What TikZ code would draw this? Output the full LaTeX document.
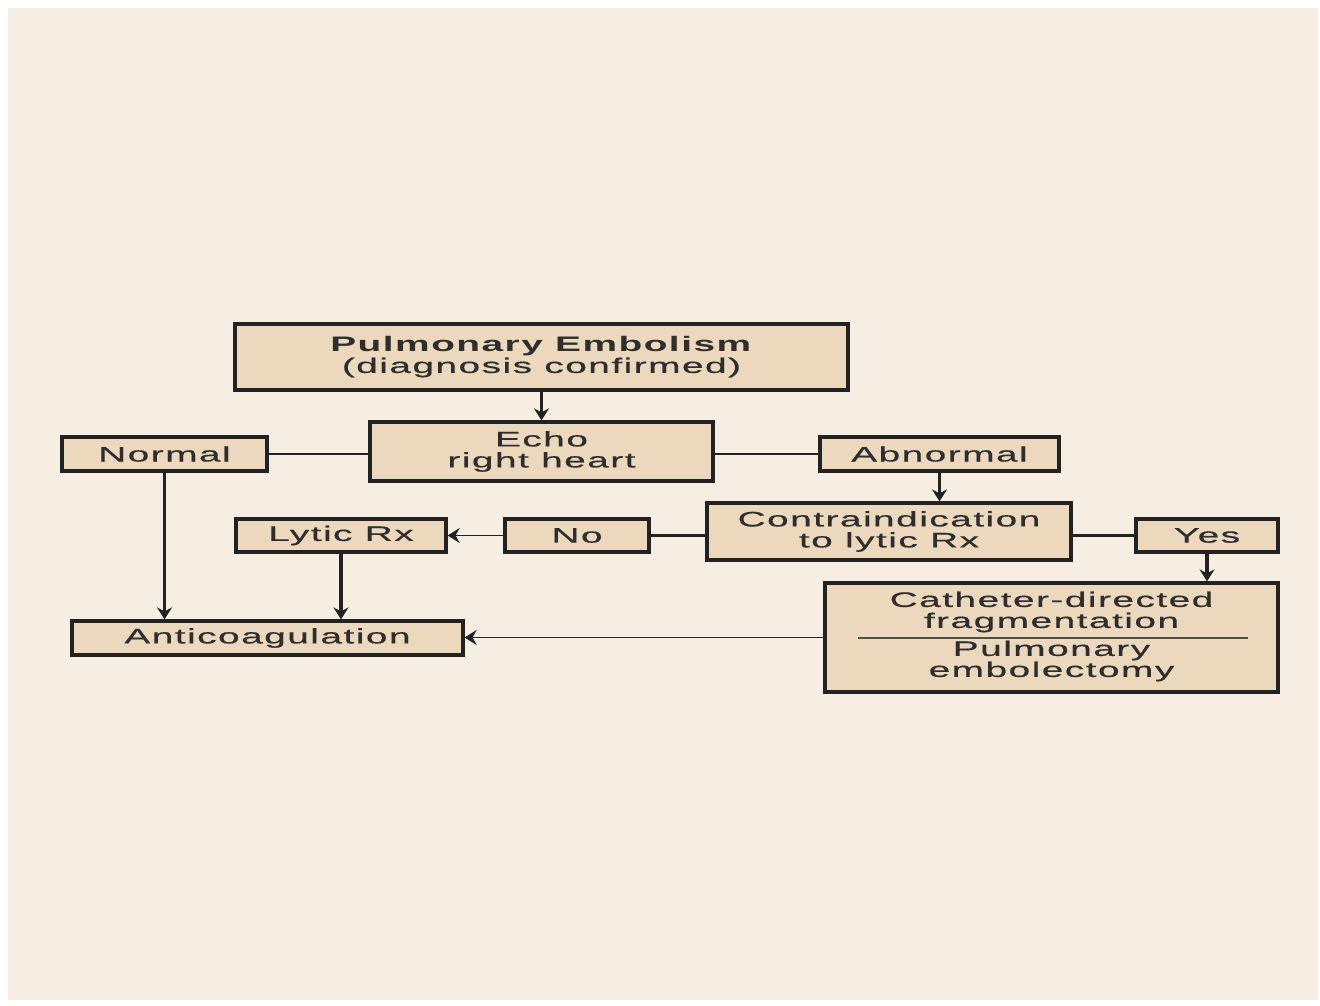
\documentclass[tikz,border=0pt]{standalone}
\usepackage{fontspec}
\setmainfont[FakeStretch=1.85,LetterSpace=7,UprightFeatures={FakeBold=0.5}]{Liberation Sans}
\usetikzlibrary{arrows.meta,shadows}
\definecolor{bg}{HTML}{F6EEE2}
\definecolor{boxfill}{HTML}{EBD8BD}
\definecolor{ink}{HTML}{222222}
\definecolor{txt}{HTML}{2E2E2E}
\begin{document}
\begin{tikzpicture}[x=0.5pt,y=-0.5pt,
  box/.style={draw=ink, fill=boxfill, line width=1.6pt, inner sep=0pt, align=center, text=txt,
    font=\fontsize{10.5pt}{10.5pt}\selectfont,
    drop shadow={shadow xshift=0.8pt, shadow yshift=-0.8pt, opacity=1, fill=ink}},
  plain/.style={inner sep=0pt, align=center, text=txt, font=\fontsize{10.5pt}{10.5pt}\selectfont},
  link/.style={draw=ink, line width=1.2pt},
  arr/.style={draw=ink, line width=1.7pt, -{Stealth[length=6pt,width=7.5pt,inset=2pt]}},
  thinarr/.style={draw=ink, line width=0.9pt, -{Stealth[length=6pt,width=7.5pt,inset=2pt]}},
]
\useasboundingbox (0,0) rectangle (1320,1005);
\fill[white] (0,0) rectangle (1320,1005);
\fill[bg] (8,8) rectangle (1318,1000);

\node[box, minimum width=306.5pt, minimum height=33pt] (pe) at (541.5,357)
  {\textbf{Pulmonary Embolism}\\(diagnosis confirmed)};
\node[box, minimum width=171.5pt, minimum height=29.5pt] (echo) at (541.5,451.5)
  {Echo\\right heart};
\node[box, minimum width=102.5pt, minimum height=17pt] (normal) at (164.5,454) {Normal};
\node[box, minimum width=119.5pt, minimum height=17pt] (abn) at (939.5,454) {Abnormal};
\node[box, minimum width=182pt, minimum height=28.5pt] (con) at (889,531.5)
  {Contraindication\\to lytic Rx};
\node[box, minimum width=71pt, minimum height=16.5pt] (yes) at (1207,535.5) {Yes};
\node[box, minimum width=72pt, minimum height=16.5pt] (no) at (577,535.5) {No};
\node[box, minimum width=105pt, minimum height=16.5pt] (lytic) at (341,535.5) {Lytic Rx};
\node[box, minimum width=195.5pt, minimum height=17pt] (anti) at (267.5,638) {Anticoagulation};
\node[box, minimum width=226.5pt, minimum height=54.5pt] (cath) at (1051.5,637.5) {};
\node[plain] (cath1) at (1051.5,612) {Catheter-directed\\fragmentation};
\node[plain] (cath2) at (1051.5,661) {Pulmonary\\embolectomy};
\coordinate (sepL) at (858,638);
\coordinate (sepR) at (1248,638);
\draw[draw=ink!80, line width=0.6pt] (sepL) -- (sepR);

% connectors
\draw[arr] (pe.south) -- (echo.north);
\draw[link] (normal.east) -- (normal.east -| echo.west);
\draw[link] (abn.west) -- (abn.west -| echo.east);
\draw[arr] (abn.south) -- (abn.south |- con.north);
\draw[link] (no.east) -- (no.east -| con.west);
\draw[thinarr] (no.west) -- (lytic.east);
\draw[link] (yes.west) -- (yes.west -| con.east);
\draw[arr] (yes.south) -- (yes.south |- cath.north);
\draw[arr] (normal.south) -- (normal.south |- anti.north);
\draw[arr] (lytic.south) -- (lytic.south |- anti.north);
\draw[thinarr] (cath.west) -- (cath.west -| anti.east);
\end{tikzpicture}
\end{document}
